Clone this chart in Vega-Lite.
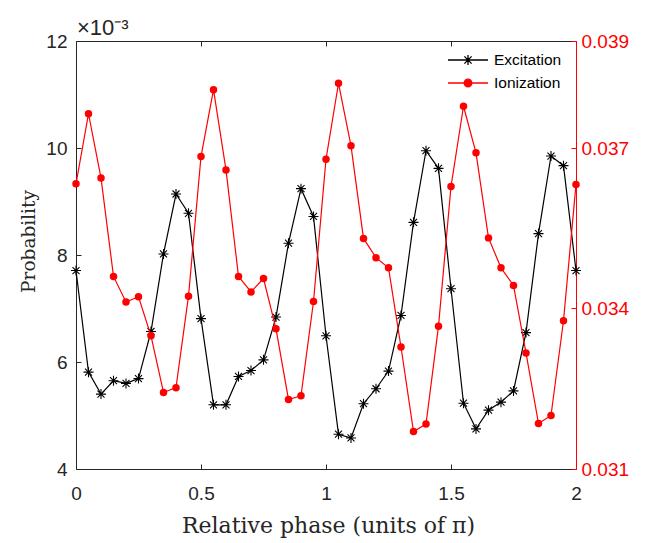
{
  "$schema": "https://vega.github.io/schema/vega-lite/v6.json",
  "width": 500,
  "height": 428,
  "autosize": "none",
  "padding": {"left": 76, "top": 41, "right": 90, "bottom": 74},
  "background": "white",
  "config": {
    "view": {"stroke": null},
    "axis": {"grid": false, "labelFont": "Liberation Sans", "labelFontSize": 19, "titleFont": "DejaVu Serif", "titleFontWeight": "normal", "titleFontSize": 19, "domainWidth": 1, "tickWidth": 1, "labelFlush": false}
  },
  "title": {"text": "×10⁻³", "anchor": "start", "frame": "group", "font": "Liberation Sans", "fontSize": 22, "fontWeight": "normal", "color": "#262626", "baseline": "alphabetic", "offset": 6, "dx": 1, "dy": 31},
  "datasets": {
    "d": [
      {"phase": 0.00, "excitation": 0.00771, "ionization": 0.03633},
      {"phase": 0.05, "excitation": 0.00581, "ionization": 0.03764},
      {"phase": 0.10, "excitation": 0.00540, "ionization": 0.03644},
      {"phase": 0.15, "excitation": 0.00565, "ionization": 0.03460},
      {"phase": 0.20, "excitation": 0.00560, "ionization": 0.03412},
      {"phase": 0.25, "excitation": 0.00569, "ionization": 0.03422},
      {"phase": 0.30, "excitation": 0.00657, "ionization": 0.03349},
      {"phase": 0.35, "excitation": 0.00802, "ionization": 0.03243},
      {"phase": 0.40, "excitation": 0.00914, "ionization": 0.03252},
      {"phase": 0.45, "excitation": 0.00878, "ionization": 0.03423},
      {"phase": 0.50, "excitation": 0.00681, "ionization": 0.03684},
      {"phase": 0.55, "excitation": 0.00520, "ionization": 0.03809},
      {"phase": 0.60, "excitation": 0.00520, "ionization": 0.03659},
      {"phase": 0.65, "excitation": 0.00573, "ionization": 0.03460},
      {"phase": 0.70, "excitation": 0.00584, "ionization": 0.03431},
      {"phase": 0.75, "excitation": 0.00604, "ionization": 0.03456},
      {"phase": 0.80, "excitation": 0.00684, "ionization": 0.03362},
      {"phase": 0.85, "excitation": 0.00822, "ionization": 0.03230},
      {"phase": 0.90, "excitation": 0.00924, "ionization": 0.03237},
      {"phase": 0.95, "excitation": 0.00872, "ionization": 0.03413},
      {"phase": 1.00, "excitation": 0.00649, "ionization": 0.03679},
      {"phase": 1.05, "excitation": 0.00465, "ionization": 0.03821},
      {"phase": 1.10, "excitation": 0.00458, "ionization": 0.03704},
      {"phase": 1.15, "excitation": 0.00522, "ionization": 0.03531},
      {"phase": 1.20, "excitation": 0.00550, "ionization": 0.03495},
      {"phase": 1.25, "excitation": 0.00583, "ionization": 0.03476},
      {"phase": 1.30, "excitation": 0.00687, "ionization": 0.03328},
      {"phase": 1.35, "excitation": 0.00861, "ionization": 0.03170},
      {"phase": 1.40, "excitation": 0.00995, "ionization": 0.03184},
      {"phase": 1.45, "excitation": 0.00962, "ionization": 0.03367},
      {"phase": 1.50, "excitation": 0.00737, "ionization": 0.03628},
      {"phase": 1.55, "excitation": 0.00523, "ionization": 0.03778},
      {"phase": 1.60, "excitation": 0.00475, "ionization": 0.03691},
      {"phase": 1.65, "excitation": 0.00510, "ionization": 0.03532},
      {"phase": 1.70, "excitation": 0.00525, "ionization": 0.03476},
      {"phase": 1.75, "excitation": 0.00546, "ionization": 0.03443},
      {"phase": 1.80, "excitation": 0.00655, "ionization": 0.03317},
      {"phase": 1.85, "excitation": 0.00840, "ionization": 0.03185},
      {"phase": 1.90, "excitation": 0.00985, "ionization": 0.03200},
      {"phase": 1.95, "excitation": 0.00967, "ionization": 0.03377},
      {"phase": 2.00, "excitation": 0.00771, "ionization": 0.03632}
    ]
  },
  "layer": [
    {
      "data": {"name": "d"},
      "mark": {"type": "line", "color": "black", "strokeWidth": 1.2, "clip": false,
        "point": {"shape": "M0,-1V1M-1,0H1M-0.7,-0.7L0.7,0.7M-0.7,0.7L0.7,-0.7", "size": 100, "filled": false, "stroke": "black", "strokeWidth": 1.1, "opacity": 1}},
      "encoding": {
        "x": {"field": "phase", "type": "quantitative", "scale": {"domain": [0, 2], "nice": false, "zero": false},
          "axis": {"orient": "bottom", "values": [0, 0.5, 1, 1.5, 2], "format": "~g", "tickSize": -5, "labelPadding": 20, "labelColor": "#262626", "domainColor": "#262626", "tickColor": "#262626",
            "title": "Relative phase (units of π)", "titleFontSize": 22, "titleColor": "#262626", "titleX": 252, "titleY": 63, "titleBaseline": "alphabetic", "titleAlign": "center"}},
        "y": {"field": "excitation", "type": "quantitative", "scale": {"domain": [0.004, 0.012], "nice": false, "zero": false},
          "axis": {"orient": "left", "values": [0.004, 0.006, 0.008, 0.01, 0.012], "labelExpr": "round(datum.value*1000)", "tickSize": -5, "labelPadding": 14, "labelColor": "#262626", "domainColor": "#262626", "tickColor": "#262626",
            "title": "Probability", "titleFontSize": 18.5, "titleColor": "#262626", "titleX": -42, "titleY": 200, "titleAngle": -90, "titleBaseline": "alphabetic", "titleAlign": "center"}}
      }
    },
    {
      "data": {"name": "d"},
      "mark": {"type": "line", "color": "#ff0000", "strokeWidth": 1.2, "clip": false,
        "point": {"shape": "circle", "size": 56, "filled": true, "color": "#ff0000", "opacity": 1}},
      "encoding": {
        "x": {"field": "phase", "type": "quantitative", "scale": {"domain": [0, 2], "nice": false, "zero": false},
          "axis": {"orient": "top", "values": [0, 0.5, 1, 1.5, 2], "tickSize": -5, "labels": false, "domainColor": "#262626", "tickColor": "#262626", "title": null}},
        "y": {"field": "ionization", "type": "quantitative", "scale": {"domain": [0.031, 0.039], "nice": false, "zero": false},
          "axis": {"orient": "right", "values": [0.031, 0.034, 0.037, 0.039], "format": ".3f", "tickSize": -5, "labelPadding": 10, "labelColor": "#ff0000", "domainColor": "#ff0000", "tickColor": "#ff0000", "title": null}}
      }
    },
    {
      "data": {"values": []},
      "mark": {"type": "point", "filled": true, "strokeWidth": 1.3, "opacity": 1},
      "encoding": {
        "shape": {"field": "s", "type": "nominal",
          "scale": {"domain": ["Excitation", "Ionization"], "range": ["M-2,0H2M0,-0.5V0.5M-0.5,0H0.5M-0.36,-0.36L0.36,0.36M-0.36,0.36L0.36,-0.36", "M-2,0H2M-0.38,0A0.38,0.38,0,1,0,0.38,0A0.38,0.38,0,1,0,-0.38,0Z"]},
          "legend": {"title": null, "orient": "none", "legendX": 381, "legendY": 8, "symbolSize": 400, "symbolStrokeWidth": 1.3, "symbolOpacity": 1, "labelFont": "Liberation Sans", "labelFontSize": 15.5, "labelColor": "#000000", "labelOffset": 15, "padding": 0, "rowPadding": 3}},
        "fill": {"field": "s", "type": "nominal", "scale": {"domain": ["Excitation", "Ionization"], "range": ["#000000", "#ff0000"]},
          "legend": {"title": null, "orient": "none", "legendX": 381, "legendY": 8, "symbolSize": 400, "symbolStrokeWidth": 1.3, "symbolOpacity": 1, "labelFont": "Liberation Sans", "labelFontSize": 15.5, "labelColor": "#000000", "labelOffset": 15, "padding": 0, "rowPadding": 3}},
        "stroke": {"field": "s", "type": "nominal", "scale": {"domain": ["Excitation", "Ionization"], "range": ["#000000", "#ff0000"]},
          "legend": {"title": null, "orient": "none", "legendX": 381, "legendY": 8, "symbolSize": 400, "symbolStrokeWidth": 1.3, "symbolOpacity": 1, "labelFont": "Liberation Sans", "labelFontSize": 15.5, "labelColor": "#000000", "labelOffset": 15, "padding": 0, "rowPadding": 3}}
      }
    }
  ],
  "resolve": {"scale": {"y": "independent"}, "axis": {"x": "independent", "y": "independent"}}
}
